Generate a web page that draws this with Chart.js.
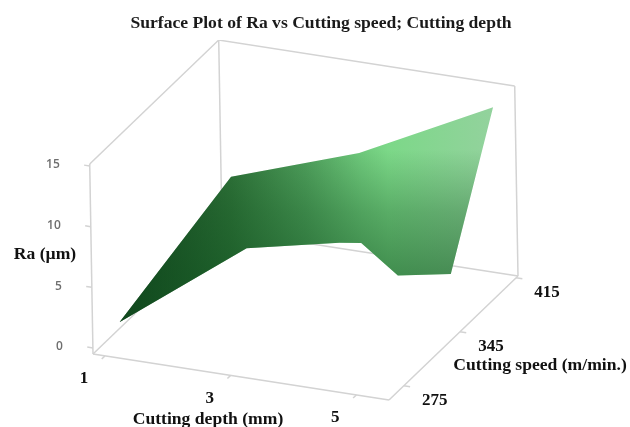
<!DOCTYPE html>
<html>
<head>
<meta charset="utf-8">
<title>Surface Plot of Ra</title>
<script src="https://cdn.jsdelivr.net/npm/chart.js@4"></script>
<style>
  html, body { margin: 0; padding: 0; background: #fff; }
  canvas { display: block; }
</style>
</head>
<body>
<canvas id="surfaceChart" width="630" height="427"></canvas>
<script>
// tick labels
const depthTicks = [1, 3, 5];
const speedTicks = [275, 345, 415];
const raTicks = [0, 5, 10, 15];

// box limits
const depthRange = [0.81, 5.52];
const speedRange = [256.5, 417.4];
const raRange = [-0.5, 15.16];

// surface outline (back side, then front side)
const upperDepth = [1, 1, 3.05, 5.2];
const upperSpeed = [275, 415, 415, 415];
const upperRa = [1.1, 4.2, 7.8, 13.3];
const lowerDepth = [1, 3.05, 4.53, 4.88, 5, 5, 5.2];
const lowerSpeed = [275, 275, 275, 275, 310, 375, 415];
const lowerRa = [1.1, 8.85, 10.5, 10.75, 5.95, 1.95, 13.3];

// oblique view of the three axes
function project(depth, speed, ra) {
  const td = (depth - depthRange[0]) / (depthRange[1] - depthRange[0]);
  const ts = (speed - speedRange[0]) / (speedRange[1] - speedRange[0]);
  const r = ra - raRange[0];
  return {
    x: 93 + 296 * td + 129 * ts - 0.21 * r,
    y: 354 + 46 * td - 124 * ts - 12.13 * r,
  };
}

function edgePoints(depths, speeds, ras) {
  return depths.map((d, i) => project(d, speeds[i], ras[i]));
}

function wire(points) {
  return {
    data: points,
    showLine: true,
    borderColor: "#d3d3d3",
    borderWidth: 1.5,
    pointRadius: 0,
    fill: false,
    order: 3,
  };
}

function surfaceLayer(makeGradient, order) {
  return [
    {
      data: edgePoints(upperDepth, upperSpeed, upperRa),
      showLine: true,
      borderWidth: 0,
      pointRadius: 0,
      fill: "+1",
      backgroundColor: (c) => makeGradient(c.chart),
      order,
    },
    {
      data: edgePoints(lowerDepth, lowerSpeed, lowerRa),
      showLine: true,
      borderWidth: 0,
      pointRadius: 0,
      fill: false,
      order,
    },
  ];
}

// plot units are canvas pixels here
function sideGradient(chart) {
  const g = chart.ctx.createLinearGradient(118, 0, 493, 0);
  g.addColorStop(0, "#123d1c");
  g.addColorStop(0.3, "#2f7239");
  g.addColorStop(0.5, "#4f9f5c");
  g.addColorStop(0.65, "#6fc97c");
  g.addColorStop(0.72, "#7cd888");
  g.addColorStop(1, "#93d29d");
  return g;
}

function depthGradient(chart) {
  const g = chart.ctx.createLinearGradient(0, 150, 0, 275);
  g.addColorStop(0, "rgba(15, 80, 30, 0)");
  g.addColorStop(0.5, "rgba(15, 80, 30, 0.32)");
  g.addColorStop(1, "rgba(15, 80, 30, 0.55)");
  return g;
}

const [d0, d1] = depthRange;
const [s0, s1] = speedRange;
const [r0, r1] = raRange;

const boxLines = [
  [[d0, s0, r0], [d1, s0, r0]],
  [[d1, s0, r0], [d1, s1, r0]],
  [[d0, s0, r0], [d0, s1, r0]],
  [[d0, s1, r0], [d1, s1, r0]],
  [[d0, s0, r0], [d0, s0, r1]],
  [[d0, s1, r0], [d0, s1, r1]],
  [[d1, s1, r0], [d1, s1, r1]],
  [[d0, s0, r1], [d0, s1, r1]],
  [[d0, s1, r1], [d1, s1, r1]],
];

const tickLines = [
  ...raTicks.map((v) => [[d0, s0, v], [d0 - 0.09, s0, v]]),
  ...depthTicks.map((v) => [[v, s0, r0], [v, s0 - 4, r0]]),
  ...speedTicks.map((v) => [[d1, v, r0], [d1 + 0.1, v, r0]]),
];

const wireSets = [...boxLines, ...tickLines].map((seg) => wire(seg.map((p) => project(p[0], p[1], p[2]))));

const labelPlugin = {
  id: "axisLabels",
  afterDraw(chart) {
    const { ctx, scales } = chart;
    const at = (p, dx, dy) => [scales.x.getPixelForValue(p.x) + dx, scales.y.getPixelForValue(p.y) + dy];
    ctx.save();
    ctx.textBaseline = "middle";

    ctx.font = "600 12px 'Open Sans'";
    ctx.fillStyle = "#6e6e6e";
    ctx.textAlign = "right";
    raTicks.forEach((v) => {
      const [x, y] = at(project(d0, s0, v), -30, -1);
      ctx.fillText(v, x, y);
    });

    ctx.font = "bold 17px 'Liberation Serif'";
    ctx.fillStyle = "#111";
    ctx.textAlign = "center";
    depthTicks.forEach((v) => {
      const [x, y] = at(project(v, s0, r0), -21, 23);
      ctx.fillText(v, x, y);
    });
    speedTicks.forEach((v) => {
      const [x, y] = at(project(d1, v, r0), 31, 15);
      ctx.fillText(v, x, y);
    });

    ctx.font = "bold 17.6px 'Liberation Serif'";
    ctx.fillText("Ra (µm)", 45, 254);
    ctx.fillText("Cutting depth (mm)", 208, 419);
    ctx.fillText("Cutting speed (m/min.)", 540, 365);
    ctx.restore();
  },
};

new Chart(document.getElementById("surfaceChart"), {
  type: "scatter",
  data: {
    datasets: [
      ...surfaceLayer(depthGradient, 1),
      ...surfaceLayer(sideGradient, 2),
      ...wireSets,
    ],
  },
  options: {
    responsive: false,
    animation: false,
    layout: { padding: { left: 12 } },
    scales: {
      x: { type: "linear", min: 12, max: 630, display: false },
      y: { type: "linear", min: 40, max: 427, reverse: true, display: false },
    },
    plugins: {
      legend: { display: false },
      tooltip: { enabled: false },
      title: {
        display: true,
        text: "Surface Plot of Ra vs Cutting speed; Cutting depth",
        color: "#1a1a1a",
        font: { family: "'Liberation Serif'", size: 17.6, weight: "bold", lineHeight: 1.2 },
        padding: { top: 12.4, bottom: 6.5 },
      },
    },
    elements: { line: { tension: 0 } },
  },
  plugins: [labelPlugin],
});
</script>
</body>
</html>
